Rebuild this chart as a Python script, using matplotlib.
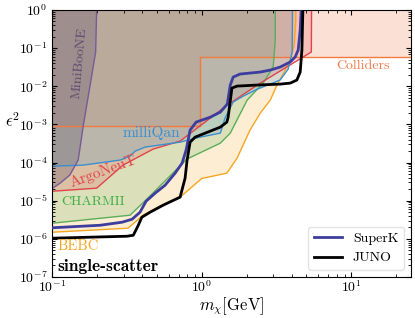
import numpy as np
import matplotlib
matplotlib.use("Agg")
import matplotlib.pyplot as plt
from matplotlib.ticker import LogLocator, NullFormatter

plt.rcParams['font.family'] = 'cmr10'
plt.rcParams['mathtext.fontset'] = 'cm'
plt.rcParams['axes.formatter.use_mathtext'] = True

# existing bounds (mass in GeV, epsilon^2)
minib_m = [0.1, 0.113, 0.131, 0.149, 0.161, 0.195, 0.198]
minib_e = [2.1e-5, 2.9e-5, 4.7e-5, 1.16e-4, 9.0e-4, 0.079, 1.0]

coll_m = [0.1, 0.97, 0.97, 30, 30]
coll_e = [9.0e-4, 9.0e-4, 0.058, 0.058, 1.0]

mq_m = [0.1, 0.16, 0.284, 0.331, 0.358, 0.417, 0.716, 0.974, 1.33, 1.43, 1.62, 1.89, 2.35, 2.87, 3.34, 3.78, 4.02, 4.04]
mq_e = [8.05e-5, 8.55e-5, 1.16e-4, 1.47e-4, 1.99e-4, 2.54e-4, 3.43e-4, 4.64e-4, 5.9e-4, 1.46e-3, 3.85e-3, 5.5e-3, 8.4e-3, 1.14e-2, 1.46e-2, 2.83e-2, 7.9e-2, 1.0]

argo_m = [0.1, 0.198, 0.297, 0.472, 0.716, 1.48, 2.46, 5.4, 5.42]
argo_e = [1.77e-5, 2.13e-5, 8.55e-5, 2.25e-4, 3.65e-4, 3.21e-3, 1.21e-2, 7.9e-2, 1.0]

charm_m = [0.1, 0.331, 0.428, 0.794, 1.33, 1.55, 2.01, 2.57, 3.0, 3.1, 3.1]
charm_e = [2.57e-6, 4.16e-6, 1.09e-5, 1.23e-4, 3.23e-4, 5.91e-4, 4.34e-3, 1.21e-2, 3.19e-2, 0.163, 1.0]

bebc_m = [0.1, 0.321, 0.405, 0.526, 0.716, 1.0, 1.47, 1.72, 2.1, 2.46, 2.87, 3.18, 3.61, 3.9, 4.15, 4.25, 4.25]
bebc_e = [1.49e-6, 1.9e-6, 4.16e-6, 7.17e-6, 1.24e-5, 3.83e-5, 5.27e-5, 1.3e-4, 7.08e-4, 1.98e-3, 4.34e-3, 1.075e-2, 2.66e-2, 4.87e-2, 0.121, 0.546, 1.0]

# projected sensitivities
superk_m = [0.1, 0.209, 0.293, 0.342, 0.386, 0.424, 0.487, 0.568, 0.663, 0.738, 0.785, 0.835, 0.916, 1.14, 1.33, 1.48, 1.55, 1.62, 1.8, 2.46, 2.87, 3.34, 3.9, 4.21, 4.41, 4.55, 4.62]
superk_e = [1.95e-6, 2.27e-6, 2.73e-6, 3.27e-6, 4.99e-6, 9.7e-6, 1.57e-5, 2.55e-5, 5.27e-5, 9.64e-5, 2.12e-4, 7.08e-4, 1.15e-3, 1.55e-3, 2.1e-3, 3.41e-3, 1.075e-2, 1.74e-2, 2.09e-2, 2.36e-2, 2.66e-2, 3.19e-2, 4.32e-2, 5.84e-2, 8.92e-2, 0.2985, 1.0]

juno_m = [0.1, 0.315, 0.348, 0.376, 0.397, 0.451, 0.551, 0.716, 0.773, 0.797, 0.835, 0.902, 1.33, 1.47, 1.5, 1.59, 1.72, 2.33, 3.34, 3.9, 4.32, 4.55, 4.67, 4.74]
juno_e = [1.04e-6, 1.17e-6, 1.24e-6, 2.27e-6, 3.69e-6, 4.99e-6, 7.62e-6, 1.24e-5, 3.9e-5, 1.16e-4, 3.43e-4, 4.64e-4, 8.49e-4, 1.15e-3, 1.55e-3, 8.97e-3, 1.01e-2, 1.075e-2, 1.14e-2, 1.21e-2, 1.455e-2, 2.36e-2, 8.92e-2, 1.0]

fig = plt.figure(figsize=(4.15, 3.18), dpi=100)
ax = fig.add_axes([0.126, 0.129, 0.864, 0.8396])


def region(m, e, color, alpha=0.2, fillcolor=None):
    xs = list(m) + [m[0]]
    ys = list(e) + [1.0]
    ax.fill(xs, ys, color=fillcolor or color, alpha=alpha, lw=0, zorder=1)
    ax.plot(m, e, color=color, lw=1.0, zorder=2)


# colliders first so the others sit on top
region(coll_m, coll_e, '#f07a40', alpha=0.22)
region(bebc_m, bebc_e, '#f5a623')
region(charm_m, charm_e, '#5aae5a')
region(argo_m, argo_e, '#e0434b')
region(mq_m, mq_e, '#3b8fd0')
region(minib_m, minib_e, '#7a5a96', alpha=0.28, fillcolor='#56486a')

ax.plot(superk_m, superk_e, color='#3d3d9e', lw=2.0, zorder=3, label='SuperK')
ax.plot(juno_m, juno_e, color='black', lw=2.0, zorder=3, label='JUNO')

ax.text(0.153, 0.041, 'MiniBooNE', color='#5e4d70', fontsize=10, rotation=85,
        ha='center', va='center', zorder=4)
ax.text(0.46, 5.9e-4, 'milliQan', color='#3b8fd0', fontsize=11,
        ha='center', va='center', zorder=4)
ax.text(0.218, 5.9e-5, 'ArgoNeuT', color='#e0434b', fontsize=11, rotation=20,
        ha='center', va='center', zorder=4)
ax.text(0.187, 9.3e-6, 'CHARMII', color='#3cb043', fontsize=10,
        ha='center', va='center', zorder=4)
ax.text(0.149, 6.4e-7, 'BEBC', color='#f5a623', fontsize=10.5,
        ha='center', va='center', zorder=4)
ax.text(11.9, 0.0333, 'Colliders', color='#f07a48', fontsize=10,
        ha='center', va='center', zorder=4)
ax.text(0.013, 0.04, 'single-scatter', fontfamily='cmb10', fontsize=12.5,
        transform=ax.transAxes, ha='left', va='center', zorder=4)

ax.set_xscale('log')
ax.set_yscale('log')
ax.set_xlim(0.1, 25)
ax.set_ylim(1e-7, 1)

ax.yaxis.set_major_locator(LogLocator(base=10, numticks=20))
ax.yaxis.set_minor_locator(LogLocator(base=10, subs=np.arange(2, 10), numticks=100))
ax.yaxis.set_minor_formatter(NullFormatter())
ax.xaxis.set_minor_locator(LogLocator(base=10, subs=np.arange(2, 10), numticks=100))
ax.xaxis.set_minor_formatter(NullFormatter())
ax.tick_params(which='both', direction='in', top=True, right=True, labelsize=10)
ax.tick_params(which='major', length=3.5)
ax.tick_params(which='minor', length=2)
ax.tick_params(axis='x', pad=2)

ax.set_xlabel(r'$m_\chi[\mathrm{GeV}]$', fontsize=12)
ax.xaxis.set_label_coords(0.5, -0.07)
ax.set_ylabel(r'$\epsilon^2$', fontsize=12, rotation=0)
ax.yaxis.set_label_coords(-0.11, 0.55)

ax.legend(loc='lower right', fontsize=10, edgecolor='#dddddd')

plt.savefig('out.png', dpi=100)
